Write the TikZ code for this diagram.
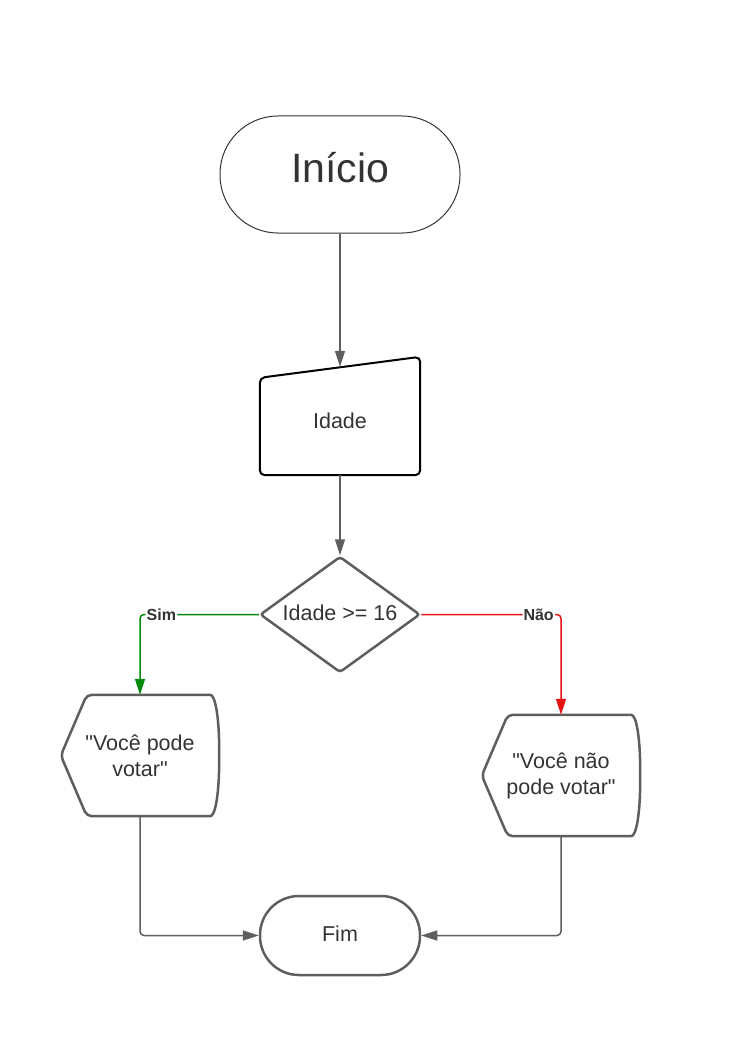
\documentclass[tikz,border=0pt]{standalone}
\usepackage{fontspec}
\setmainfont{Liberation Sans}[Ligatures=TeXOff]
\usepackage{xcolor}
\usetikzlibrary{arrows.meta, shapes.geometric, calc}

\definecolor{linegray}{HTML}{5E5E5E}
\definecolor{textgray}{HTML}{333333}
\definecolor{simgreen}{HTML}{008A0E}
\definecolor{naored}{HTML}{E81414}

\begin{document}
\begin{tikzpicture}[
    x=1pt, y=-1pt,
    flow font/.style={font=\fontsize{21.5}{26}\selectfont, text=textgray, align=center, inner sep=0pt},
    flow text/.style={flow font, text height=15.5pt, text depth=4.5pt},
    term node/.style={flow text, rectangle, draw=linegray, line width=2.5pt, rounded corners=#1},
    box node/.style={flow text, minimum width=160pt, minimum height=108pt, text depth=0pt},
    show node/.style={flow font, minimum width=158pt, minimum height=121pt},
    shape line/.style={draw=linegray, line width=2.5pt, line join=round, rounded corners=5pt},
    flow arrow/.style={draw=linegray, line width=1.5pt, rounded corners=4pt, -{Triangle[length=16pt, width=10pt]}},
    branch label/.style={font=\fontsize{16}{16}\selectfont\bfseries, text=textgray, fill=white, inner sep=1pt}
]
    \useasboundingbox (0,0) rectangle (743,1038);

    % Inicio
    \node[term node=58pt, draw=textgray, line width=1pt, minimum width=240pt, minimum height=117pt,
          font=\fontsize{41}{41}\selectfont, text height=30pt, text depth=15pt] (inicio) at (340,174.5) {Início};

    % Entrada manual
    \node[box node] (idade) at (340,421) {Idade};
    \draw[shape line, draw=black, line width=2pt] (idade.south west) -- ([yshift=-11pt]idade.north west)
        -- ([yshift=10pt]idade.north east) -- (idade.south east) -- cycle;

    % Decisao
    \node[flow text, diamond, draw=linegray, line width=2.5pt, rounded corners=3pt,
          minimum width=160pt, minimum height=116pt, aspect=1.38] (cond) at (340,614.5) {Idade >= 16};

    % Saidas
    \node[show node] (vsim) at (140,755.5) {"Você pode\\votar"};
    \node[show node] (vnao) at (561,775.5) {"Você não\\pode votar"};
    \foreach \n in {vsim, vnao} {
        \draw[shape line] (\n.west) -- ([xshift=26pt]\n.north west) -- ([xshift=-14pt]\n.north east)
            .. controls ([xshift=-4pt]\n.north east) and ($(\n.north east)+(0,22)$) .. (\n.east)
            .. controls ($(\n.south east)+(0,-22)$) and ([xshift=-4pt]\n.south east) .. ([xshift=-14pt]\n.south east)
            -- ([xshift=26pt]\n.south west) -- cycle;
    }

    % Fim
    \node[term node=39pt, minimum width=160pt, minimum height=79pt] (fim) at (340,935.5) {Fim};

    % Conexoes
    \draw[flow arrow] (inicio) -- (idade);
    \draw[flow arrow] (idade) -- (cond);
    \draw[flow arrow, draw=simgreen] (cond.west) -| node[branch label, pos=0.41] (sim) {Sim} (vsim.north);
    \draw[flow arrow, draw=naored] (cond.east) -| node[branch label, pos=0.42] (nao) {Não} (vnao.north);
    \draw[flow arrow] (vsim.south) |- (fim.west);
    \draw[flow arrow] (vnao.south) |- (fim.east);
\end{tikzpicture}
\end{document}
